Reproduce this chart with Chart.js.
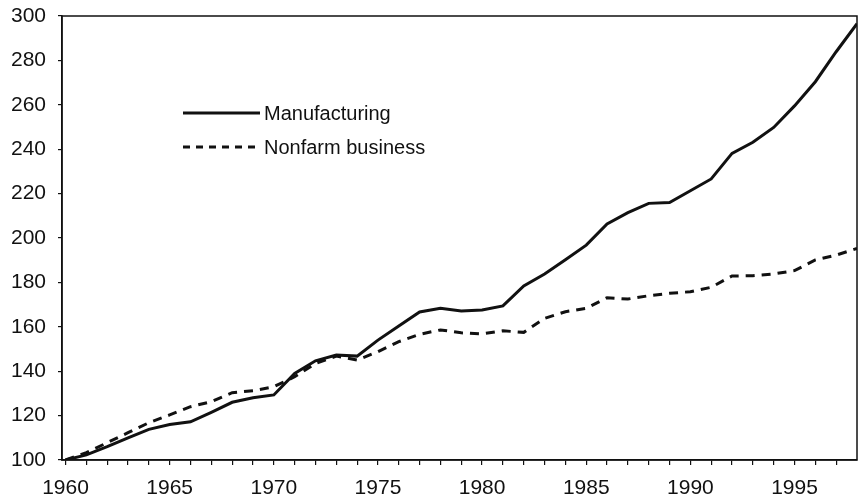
<!DOCTYPE html>
<html>
<head>
<meta charset="utf-8">
<script src="https://cdn.jsdelivr.net/npm/chart.js@4.4.1/dist/chart.umd.min.js"></script>
<style>
  html, body { margin: 0; padding: 0; background: #fff; }
  #wrap { width: 860px; height: 502px; position: relative; }
</style>
</head>
<body>
<div id="wrap"><canvas id="c" width="860" height="502"></canvas></div>
<script>
const years = [1960,1961,1962,1963,1964,1965,1966,1967,1968,1969,1970,1971,1972,1973,1974,1975,1976,1977,1978,1979,1980,1981,1982,1983,1984,1985,1986,1987,1988,1989,1990,1991,1992,1993,1994,1995,1996,1997,1998];
const manufacturing = [100,102.3,106,110,113.8,116,117.2,121.5,126,128,129.3,139,144.7,147.3,146.8,154,160.4,166.7,168.3,167.1,167.6,169.4,178.4,183.8,190.2,196.8,206.3,211.4,215.6,216,221.3,226.6,238.1,243.1,249.8,259.5,270.4,283.9,296.5];
const nonfarm = [100,103.3,107.8,112.3,116.8,120.3,124,126.3,130.3,131.2,133,137.5,143.5,146.8,145,148.8,153.3,156.6,158.6,157.3,156.8,158.2,157.5,163.8,166.8,168.3,173.1,172.5,174,175.1,175.8,177.8,182.9,183,183.8,185.3,190.1,192.3,195.3];
const seriesNames = ["Manufacturing", "Nonfarm business"];
const yTicks = [100,120,140,160,180,200,220,240,260,280,300];
const xLabelYears = [1960,1965,1970,1975,1980,1985,1990,1995];

const FONT = "'Liberation Sans', Arial, Helvetica, sans-serif";
const INK = '#111';

const boxPlugin = {
  id: 'box',
  afterDraw(chart) {
    const {ctx, chartArea: a} = chart;
    ctx.save();
    ctx.strokeStyle = INK;
    ctx.lineWidth = 1.5;
    ctx.strokeRect(a.left, a.top, a.right - a.left, a.bottom - a.top);
    ctx.restore();
  }
};

const legendPlugin = {
  id: 'insideLegend',
  afterDraw(chart) {
    const ctx = chart.ctx;
    ctx.save();
    const rows = [{y: 113}, {y: 147}];
    chart.data.datasets.forEach((ds, i) => {
      const y = rows[i].y;
      ctx.strokeStyle = ds.borderColor;
      ctx.lineWidth = ds.borderWidth;
      ctx.setLineDash(i === 0 ? [] : [7, 6]);
      ctx.beginPath();
      ctx.moveTo(183, y);
      ctx.lineTo(260, y);
      ctx.stroke();
      ctx.setLineDash([]);
      ctx.fillStyle = INK;
      ctx.font = '20px ' + FONT;
      ctx.textBaseline = 'middle';
      ctx.textAlign = 'left';
      ctx.fillText(ds.label, 264, y + 1);
    });
    ctx.restore();
  }
};

new Chart(document.getElementById('c'), {
  type: 'line',
  data: {
    datasets: [
      {
        label: seriesNames[0],
        data: years.map((x, i) => ({x, y: manufacturing[i]})),
        borderColor: INK,
        borderWidth: 3,
        pointRadius: 0,
        tension: 0,
        fill: false
      },
      {
        label: seriesNames[1],
        data: years.map((x, i) => ({x, y: nonfarm[i]})),
        borderColor: INK,
        borderWidth: 3,
        borderDash: [9, 7],
        pointRadius: 0,
        tension: 0,
        fill: false
      }
    ]
  },
  options: {
    responsive: false,
    animation: false,
    events: [],
    layout: { padding: { top: 16, right: 3, left: 0, bottom: 0 } },
    plugins: { legend: { display: false }, tooltip: { enabled: false } },
    scales: {
      x: {
        type: 'linear',
        min: 1959.83,
        max: 1998,
        afterBuildTicks(scale) {
          const t = [];
          for (let yr = 1960; yr <= 1997; yr++) t.push({value: yr});
          scale.ticks = t;
        },
        afterFit(scale) { scale.height = 42; scale.paddingLeft = 0; scale.paddingRight = 0; },
        grid: { drawOnChartArea: false, drawTicks: true, tickLength: 5, color: INK, lineWidth: 1.2 },
        border: { display: true, color: INK, width: 1.5 },
        ticks: {
          autoSkip: false,
          maxRotation: 0,
          padding: 11,
          color: INK,
          font: { family: FONT, size: 21 },
          callback: (v) => xLabelYears.includes(v) ? String(v) : ''
        }
      },
      y: {
        min: 100,
        max: 300,
        afterBuildTicks(scale) { scale.ticks = yTicks.map(v => ({value: v})); },
        afterFit(scale) { scale.width = 62; scale.paddingTop = 0; scale.paddingBottom = 0; },
        grid: { drawOnChartArea: false, drawTicks: true, tickLength: 4, color: INK, lineWidth: 1.2 },
        border: { display: true, color: INK, width: 1.5 },
        ticks: {
          padding: 12,
          color: INK,
          font: { family: FONT, size: 21 }
        }
      }
    }
  },
  plugins: [boxPlugin, legendPlugin]
});
</script>
</body>
</html>
